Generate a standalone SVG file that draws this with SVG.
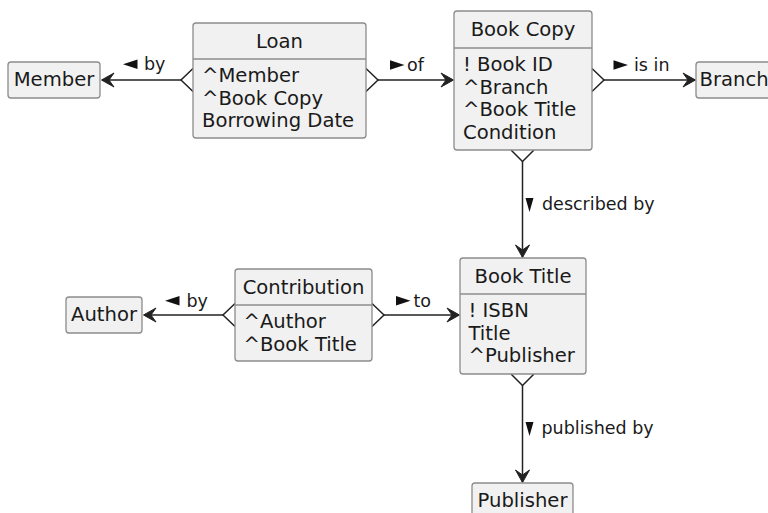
<svg xmlns="http://www.w3.org/2000/svg" width="768" height="513" viewBox="0 0 768 513">
  <style>
    .box { fill: #F1F1F1; stroke: #8c8c8c; stroke-width: 1.3; }
    .div { stroke: #8c8c8c; stroke-width: 1.3; }
    .t { font-family: "DejaVu Sans", "Liberation Sans", sans-serif; font-size: 19.6px; fill: #1a1a1a; }
    .c { text-anchor: middle; }
    .lbl { font-family: "DejaVu Sans", "Liberation Sans", sans-serif; font-size: 17.5px; fill: #1a1a1a; }
    .ln { stroke: #222; stroke-width: 1.5; fill: none; }
    .head { fill: #222; stroke: #222; stroke-width: 1; stroke-linejoin: miter; }
    .tri { fill: #111; }
  </style>
  <rect width="768" height="513" fill="#ffffff"/>

  <!-- relationship lines, crow's feet, arrowheads and labels -->
  <g id="connectors">
    <!-- Loan -> Member -->
    <line class="ln" x1="181" y1="80" x2="102" y2="80"/>
    <polyline class="ln" points="193,68.5 181,80 193,91.5"/>
    <polygon class="head" points="101.5,80 114,73 109,80 114,87"/>
    <polygon class="tri" points="123,64.3 137.5,59.5 137.5,69"/>
    <text class="lbl" x="144" y="70">by</text>

    <!-- Loan -> Book Copy -->
    <line class="ln" x1="378" y1="80" x2="453" y2="80"/>
    <polyline class="ln" points="366,68.5 378,80 366,91.5"/>
    <polygon class="head" points="453.5,80 441,73 446,80 441,87"/>
    <polygon class="tri" points="404.5,65 390,60.2 390,69.8"/>
    <text class="lbl" x="407" y="71">of</text>

    <!-- Book Copy -> Branch -->
    <line class="ln" x1="604" y1="80" x2="695" y2="80"/>
    <polyline class="ln" points="592,68.5 604,80 592,91.5"/>
    <polygon class="head" points="695.5,80 683,73 688,80 683,87"/>
    <polygon class="tri" points="628,65 613.5,60.2 613.5,69.8"/>
    <text class="lbl" x="634" y="71">is in</text>

    <!-- Book Copy -> Book Title -->
    <line class="ln" x1="522.5" y1="161" x2="522.5" y2="257"/>
    <polyline class="ln" points="511,150 522.5,161.5 534,150"/>
    <polygon class="head" points="522.5,257.5 515.5,245 522.5,250 529.5,245"/>
    <polygon class="tri" points="525.5,198 533.5,198 529.5,212"/>
    <text class="lbl" x="542" y="210">described by</text>

    <!-- Book Title -> Publisher -->
    <line class="ln" x1="522.5" y1="385" x2="522.5" y2="482"/>
    <polyline class="ln" points="511,374 522.5,385.5 534,374"/>
    <polygon class="head" points="522.5,482.5 515.5,470 522.5,475 529.5,470"/>
    <polygon class="tri" points="525.5,422 533.5,422 529.5,436"/>
    <text class="lbl" x="541.5" y="434">published by</text>

    <!-- Contribution -> Author -->
    <line class="ln" x1="223" y1="315" x2="144" y2="315"/>
    <polyline class="ln" points="235,303.5 223,315 235,326.5"/>
    <polygon class="head" points="143.5,315 156,308 151,315 156,322"/>
    <polygon class="tri" points="165,300.8 179.5,296 179.5,305.5"/>
    <text class="lbl" x="186.5" y="306.5">by</text>

    <!-- Contribution -> Book Title -->
    <line class="ln" x1="384" y1="315" x2="459" y2="315"/>
    <polyline class="ln" points="372,303.5 384,315 372,326.5"/>
    <polygon class="head" points="459.5,315 447,308 452,315 447,322"/>
    <polygon class="tri" points="410.5,300.8 396,296 396,305.5"/>
    <text class="lbl" x="413.5" y="306.5">to</text>
  </g>

  <g id="member">
    <rect class="box" x="8" y="62" width="92" height="36" rx="3"/>
    <text class="t c" x="54" y="86">Member</text>
  </g>

  <g id="loan">
    <rect class="box" x="193" y="23" width="173" height="115" rx="3"/>
    <line class="div" x1="193" y1="59" x2="366" y2="59"/>
    <text class="t c" x="279.5" y="47.5">Loan</text>
    <text class="t" x="202" y="81.7">^Member</text>
    <text class="t" x="202" y="104.5">^Book Copy</text>
    <text class="t" x="202" y="127.3">Borrowing Date</text>
  </g>

  <g id="book-copy">
    <rect class="box" x="454" y="11" width="138" height="139" rx="3"/>
    <line class="div" x1="454" y1="48" x2="592" y2="48"/>
    <text class="t c" x="523" y="36">Book Copy</text>
    <text class="t" x="463" y="70.7">! Book ID</text>
    <text class="t" x="463" y="93.5">^Branch</text>
    <text class="t" x="463" y="116.3">^Book Title</text>
    <text class="t" x="463" y="139.1">Condition</text>
  </g>

  <g id="branch">
    <rect class="box" x="696" y="62" width="80" height="36" rx="3"/>
    <text class="t" x="699.5" y="86">Branch</text>
  </g>

  <g id="book-title">
    <rect class="box" x="460" y="258" width="126" height="116" rx="3"/>
    <line class="div" x1="460" y1="294" x2="586" y2="294"/>
    <text class="t c" x="523" y="282.5">Book Title</text>
    <text class="t" x="468.5" y="316.7">! ISBN</text>
    <text class="t" x="468.5" y="339.5">Title</text>
    <text class="t" x="468.5" y="362.3">^Publisher</text>
  </g>

  <g id="author">
    <rect class="box" x="66" y="297" width="76" height="36" rx="3"/>
    <text class="t c" x="104" y="321">Author</text>
  </g>

  <g id="contribution">
    <rect class="box" x="235" y="269" width="137" height="92" rx="3"/>
    <line class="div" x1="235" y1="305" x2="372" y2="305"/>
    <text class="t c" x="303.5" y="293.5">Contribution</text>
    <text class="t" x="243.5" y="327.7">^Author</text>
    <text class="t" x="243.5" y="350.5">^Book Title</text>
  </g>

  <g id="publisher">
    <rect class="box" x="472" y="483" width="101" height="36" rx="3"/>
    <text class="t c" x="522.5" y="507">Publisher</text>
  </g>
</svg>
